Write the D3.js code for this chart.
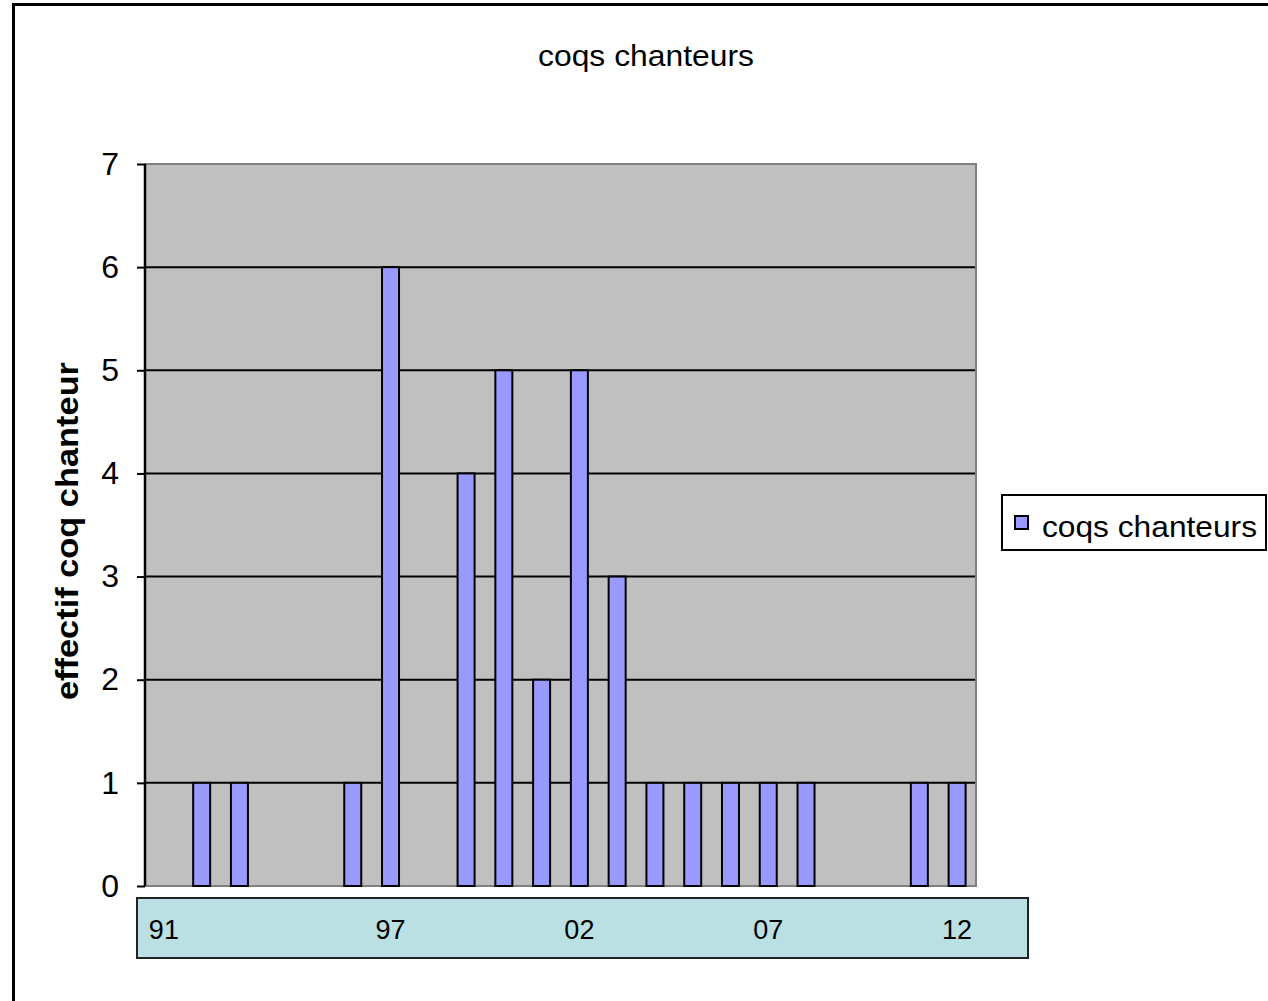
<!DOCTYPE html>
<html>
<head>
<meta charset="utf-8">
<script src="https://cdn.jsdelivr.net/npm/d3@7/dist/d3.min.js"></script>
<style>
  html, body { margin: 0; padding: 0; background: #fff; }
  svg { display: block; }
  text { font-family: "Liberation Sans", Arial, sans-serif; fill: #000; }
</style>
</head>
<body>
<svg id="chart" width="1268" height="1001"></svg>
<script>
// ---- data ----
const years = ["1991","1992","1993","1994","1995","1996","1997","1998","1999","2000","2001",
               "2002","2003","2004","2005","2006","2007","2008","2009","2010","2011","2012"];
const values = [0,1,1,0,0,1,6,0,4,5,2,5,3,1,1,1,1,1,0,0,1,1];
const yTicks = [0,1,2,3,4,5,6,7];
const catLabelYears = ["1991","1997","2002","2007","2012"];
const catLabels = ["91","97","02","07","12"];
const titleText = "coqs chanteurs";
const seriesName = "coqs chanteurs";
const yTitle = "effectif coq chanteur";

// ---- layout ----
const svg = d3.select("#chart");
const plot = {left: 145, right: 976, top: 164, bottom: 886};

const x = d3.scaleBand().domain(years).range([plot.left, plot.right]).paddingInner(0.55).paddingOuter(0.275);
const y = d3.scaleLinear().domain([0, 7]).range([plot.bottom, plot.top]);

// outer chart border
svg.append("rect").attr("x", 13.5).attr("y", 4.5).attr("width", 1300).attr("height", 1100)
  .attr("fill", "none").attr("stroke", "#000").attr("stroke-width", 3);

// title
svg.append("text").attr("x", 646).attr("y", 66).attr("text-anchor", "middle")
  .attr("font-size", 30).attr("textLength", 216).attr("lengthAdjust", "spacingAndGlyphs")
  .text(titleText);

// plot background
svg.append("rect").attr("x", plot.left).attr("y", plot.top)
  .attr("width", plot.right - plot.left).attr("height", plot.bottom - plot.top)
  .attr("fill", "#c0c0c0").attr("stroke", "#808080").attr("stroke-width", 2);

// gridlines (1..6)
svg.append("g").selectAll("line").data(yTicks.filter(d => d > 0 && d < 7)).join("line")
  .attr("x1", plot.left).attr("x2", plot.right - 1)
  .attr("y1", d => y(d)).attr("y2", d => y(d))
  .attr("stroke", "#000").attr("stroke-width", 2);

// bars
svg.append("g").selectAll("rect").data(years.map((yr, i) => ({yr, v: values[i]})).filter(d => d.v > 0)).join("rect")
  .attr("x", d => x(d.yr))
  .attr("y", d => y(d.v))
  .attr("width", x.bandwidth())
  .attr("height", d => y(0) - y(d.v))
  .attr("fill", "#9999ff").attr("stroke", "#000").attr("stroke-width", 2);

// y axis
const yAxis = d3.axisLeft(y).tickValues(yTicks).tickSize(8).tickPadding(18).tickFormat(d3.format("d"));
const ga = svg.append("g").attr("transform", `translate(${plot.left},0)`).call(yAxis);
ga.select(".domain").attr("stroke", "#000").attr("stroke-width", 2.5).attr("d", `M0,${plot.top}V${plot.bottom}`);
ga.selectAll(".tick line").attr("stroke", "#000").attr("stroke-width", 2);
ga.selectAll(".tick text").attr("font-size", 32).attr("font-family", "Liberation Sans, Arial, sans-serif").attr("fill", "#000");

// y axis title
svg.append("text")
  .attr("transform", `translate(78,531) rotate(-90)`)
  .attr("text-anchor", "middle").attr("font-weight", "bold").attr("font-size", 31)
  .attr("textLength", 338).attr("lengthAdjust", "spacingAndGlyphs")
  .text(yTitle);

// category label box
svg.append("rect").attr("x", 137).attr("y", 898).attr("width", 891).attr("height", 60)
  .attr("fill", "#bae0e3").attr("stroke", "#222").attr("stroke-width", 2);
svg.append("g").selectAll("text").data(catLabelYears).join("text")
  .attr("x", d => x(d) + x.bandwidth() / 2)
  .attr("y", 939).attr("text-anchor", "middle").attr("font-size", 27)
  .text((d, i) => catLabels[i]);

// legend
svg.append("rect").attr("x", 1002).attr("y", 495).attr("width", 264).attr("height", 55)
  .attr("fill", "#fff").attr("stroke", "#000").attr("stroke-width", 2);
svg.append("rect").attr("x", 1015).attr("y", 516).attr("width", 13).attr("height", 13)
  .attr("fill", "#9999ff").attr("stroke", "#000").attr("stroke-width", 2);
svg.append("text").attr("x", 1042).attr("y", 537).attr("font-size", 30)
  .attr("textLength", 215).attr("lengthAdjust", "spacingAndGlyphs")
  .text(seriesName);
</script>
</body>
</html>
